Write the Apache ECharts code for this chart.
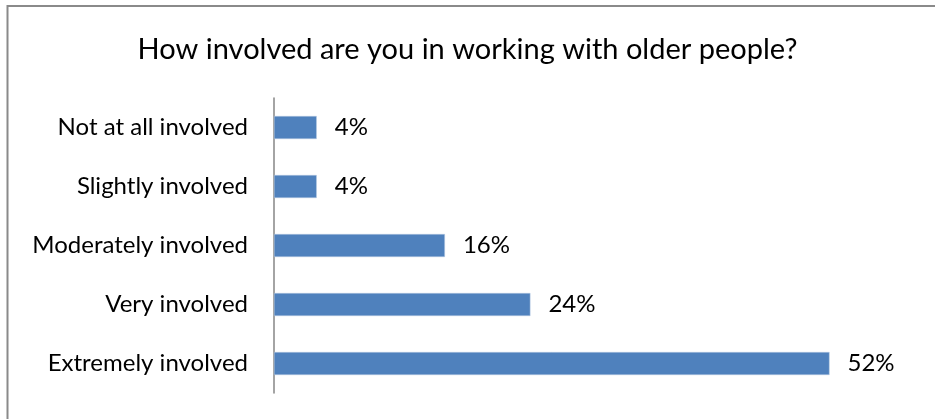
<!DOCTYPE html>
<html>
<head>
<meta charset="utf-8">
<script src="https://cdn.jsdelivr.net/npm/echarts@6/dist/echarts.min.js"></script>
<style>
  html, body { margin: 0; padding: 0; background: #fff; }
  #chart { width: 935px; height: 419px; }
</style>
</head>
<body>
<div id="chart"></div>
<script>
const categories = ['Not at all involved', 'Slightly involved', 'Moderately involved', 'Very involved', 'Extremely involved'];
const shares = [4, 4, 16, 24, 52];
const titleText = 'How involved are you in working with older people?';

const FONT = 'Lato';
const chart = echarts.init(document.getElementById('chart'));
chart.setOption({
  animation: false,
  backgroundColor: '#ffffff',
  title: {
    text: titleText,
    left: 'center',
    top: 30,
    textStyle: { fontFamily: FONT, fontSize: 29, fontWeight: 'normal', color: '#000' }
  },
  // chart-area frame, open on the right and bottom edges of the page
  graphic: [{
    type: 'rect',
    shape: { x: 7.5, y: 6, width: 1000, height: 1000 },
    style: { fill: 'none', stroke: '#8a8a8a', lineWidth: 2 },
    silent: true
  }],
  grid: { left: 274, right: 20, top: 98, bottom: 26, containLabel: false },
  xAxis: {
    type: 'value',
    min: 0,
    max: 60,
    show: false
  },
  yAxis: {
    type: 'category',
    data: categories,
    inverse: true,
    axisLine: { show: true, lineStyle: { color: '#868686', width: 1.5 } },
    axisTick: { show: false },
    axisLabel: { fontFamily: FONT, fontSize: 24, color: '#000', margin: 26 }
  },
  series: [{
    type: 'bar',
    data: shares,
    barWidth: 23,
    itemStyle: { color: '#4F81BD', borderColor: '#B9CDE5', borderWidth: 0.5 },
    label: {
      show: true,
      position: 'right',
      distance: 18,
      formatter: p => p.value + '%',
      fontFamily: FONT,
      fontSize: 24,
      color: '#000'
    }
  }]
});
</script>
</body>
</html>
